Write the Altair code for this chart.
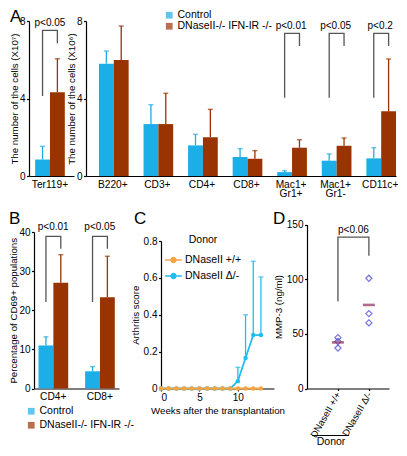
import altair as alt
import pandas as pd

FONT = "Liberation Sans"
CTRL = "#1caee6"
KO = "#993300"
BRK = "#555555"
ORANGE = "#f5a443"
BLUE = "#22bdef"
groups = ["Control", "DNaseII-/- IFN-IR -/-"]

# ---------------- Panel A (left) ----------------
a1_cats = ["Ter119+"]
a1_ctrl = [0.85]
a1_ctrl_top = [1.53]
a1_ko = [4.32]
a1_ko_top = [6.05]
a1_brk_cats = ["Ter119+"]
a1_brk_low = [4.13]
a1_brk_top = [7.52]
a1_brk_high = [6.85]
a1_brk_text = ["p<0.05"]
a1_text_y = [7.9]

# ---------------- Panel A (right) ----------------
a2_cats = ["B220+", "CD3+", "CD4+", "CD8+", "Mac1+ Gr1+", "Mac1+ Gr1-", "CD11c+"]
a2_ctrl = [5.80, 2.68, 1.58, 0.98, 0.20, 0.79, 0.91]
a2_ctrl_top = [6.45, 3.68, 2.15, 1.41, 0.27, 1.14, 1.46]
a2_ko = [5.99, 2.68, 2.00, 0.89, 1.46, 1.56, 3.34]
a2_ko_top = [7.74, 4.27, 3.44, 1.31, 1.87, 1.96, 6.04]
a2_brk_cats = ["Mac1+ Gr1+", "Mac1+ Gr1-", "CD11c+"]
a2_brk_low = [4.04, 4.04, 4.04]
a2_brk_top = [7.36, 7.36, 7.36]
a2_brk_high = [6.71, 6.71, 6.71]
a2_brk_text = ["p<0.01", "p<0.05", "p<0.2"]
a2_text_y = [7.75, 7.75, 7.75]

# ---------------- Panel B ----------------
b_cats = ["CD4+", "CD8+"]
b_ctrl = [11.0, 4.4]
b_ctrl_top = [13.2, 5.6]
b_ko = [27.0, 23.3]
b_ko_top = [34.2, 33.8]
b_brk_cats = ["CD4+", "CD8+"]
b_brk_low = [22.1, 22.1]
b_brk_top = [38.9, 38.9]
b_brk_high = [35.7, 35.7]
b_brk_text = ["p<0.01", "p<0.05"]
b_text_y = [41.3, 41.3]

# ---------------- Panel C ----------------
c_donors = ["DNaseII +/+", "DNaseII \u0394/-"]
c_weeks = [0, 1, 2, 3, 4, 5, 6, 7, 8, 9, 10, 11, 12, 13]
c_wt = [0, 0, 0, 0, 0, 0, 0, 0, 0, 0, 0, 0, 0, 0]
c_ko = [0, 0, 0, 0, 0, 0, 0, 0, 0, 0, 0.04, 0.165, 0.29, 0.29]
c_err_weeks = [10, 11, 12, 13]
c_err_val = [0.04, 0.165, 0.29, 0.29]
c_err_top = [0.115, 0.40, 0.69, 0.605]

# ---------------- Panel D ----------------
d_pos = [1, 1, 1, 2, 2, 2]
d_vals = [46.5, 43.0, 37.0, 100.8, 68.5, 60.0]
d_labels = ["DNaseII +/+", "DNaseII \u0394/-"]
d_brk_x = [1, 1, 2, 2]
d_brk_y = [79.5, 138.5, 138.5, 121.4]
d_text = ["p<0.06"]
d_text_x = [1.5]
d_text_y = [145.0]

# Every panel shares the row origin (top of panel A's plot area).
ROW_H = 367.5
TITLE_FS = 9.7


def long_df(cats, ctrl, ctrl_top, ko, ko_top):
    return pd.DataFrame({
        "cat": cats + cats,
        "group": [groups[0]] * len(cats) + [groups[1]] * len(cats),
        "value": ctrl + ko,
        "top": ctrl_top + ko_top,
    })


def bracket_df(cats, low, top, high):
    rows = []
    for c, l, t, h in zip(cats, low, top, high):
        rows += [dict(cat=c, group=groups[0], y=l, o=0),
                 dict(cat=c, group=groups[0], y=t, o=1),
                 dict(cat=c, group=groups[1], y=t, o=2),
                 dict(cat=c, group=groups[1], y=h, o=3)]
    return pd.DataFrame(rows)


def letter(txt, dx, dy):
    return alt.Chart(pd.DataFrame({"t": [txt]})).mark_text(
        fontSize=17, align="left", baseline="alphabetic"
    ).encode(x=alt.value(dx), y=alt.value(dy), text="t:N")


def bar_panel(cats, ctrl, ctrl_top, ko, ko_top, bcats, blow, btop, bhigh, btext, bty,
              ymax, yvals, ytitle, plot_w, y_top, y_bot, pin, pout, align, legend,
              gw, extra=None):
    df = long_df(cats, ctrl, ctrl_top, ko, ko_top)
    xs = alt.Scale(paddingInner=pin, paddingOuter=pout, align=align, range=[0, plot_w])
    xax = alt.Axis(title=None, ticks=False, labelAngle=0, labelPadding=3,
                   labelExpr="split(datum.label, ' ')", labelLineHeight=9.5,
                   labelFontSize=10.2)
    x = alt.X("cat:N", sort=cats, scale=xs, axis=xax)
    xo = alt.XOffset("group:N", sort=groups,
                     scale=alt.Scale(paddingInner=0, paddingOuter=0))
    y = alt.Y("value:Q", scale=alt.Scale(domain=[0, ymax], nice=False, range=[y_bot, y_top]),
              axis=alt.Axis(values=yvals, title=ytitle, titlePadding=0))
    color = alt.Color("group:N", sort=groups,
                      scale=alt.Scale(domain=groups, range=[CTRL, KO]), legend=legend)
    base = alt.Chart(df)
    bars = base.mark_bar().encode(x=x, xOffset=xo, y=y, color=color)
    err = base.mark_rule(strokeWidth=1.3).encode(
        x=x, xOffset=xo, y=alt.Y("value:Q", title=ytitle), y2="top:Q", color=color)
    caps = base.mark_tick(size=5, thickness=1.4).encode(
        x=x, xOffset=xo, y=alt.Y("top:Q", title=ytitle), color=color)
    brk = alt.Chart(bracket_df(bcats, blow, btop, bhigh)).mark_line(
        color=BRK, strokeWidth=1.3).encode(
        x=x, xOffset=xo, y=alt.Y("y:Q", title=ytitle), detail="cat:N", order="o:Q")
    txt = alt.Chart(pd.DataFrame({"cat": bcats, "y": bty, "p": btext})).mark_text(
        fontSize=10).encode(x=x, y=alt.Y("y:Q", title=ytitle), text="p:N")
    layers = [bars, err, caps, brk, txt]
    if extra is not None:
        layers.append(extra)
    return alt.layer(*layers).properties(width=gw, height=y_bot)


A1 = bar_panel(a1_cats, a1_ctrl, a1_ctrl_top, a1_ko, a1_ko_top,
               a1_brk_cats, a1_brk_low, a1_brk_top, a1_brk_high, a1_brk_text, a1_text_y,
               8, [0, 2, 4, 6, 8], "The number of the cells (X10\u2077)",
               45, 0, 155, 0, 0.258, 0.4, None, gw=5,
               extra=letter("A", -19, 1))

legA = alt.Legend(orient="none", legendX=78, legendY=-11, title=None,
                  symbolType="square", symbolSize=45, labelFontSize=10.5,
                  rowPadding=0, padding=0, symbolStrokeWidth=0, labelOffset=3)
A2 = bar_panel(a2_cats, a2_ctrl, a2_ctrl_top, a2_ko, a2_ko_top,
               a2_brk_cats, a2_brk_low, a2_brk_top, a2_brk_high, a2_brk_text, a2_text_y,
               8, [0, 2, 4, 6, 8], "The number of the cells (X10\u2076)",
               310, 0, 155, 0.378, 0.167, 0.87, legA, gw=75)

legB = alt.Legend(orient="none", legendX=-8, legendY=385, title=None,
                  symbolType="square", symbolSize=45, labelFontSize=10.5,
                  rowPadding=3, padding=0, symbolStrokeWidth=0, labelOffset=3)
B = bar_panel(b_cats, b_ctrl, b_ctrl_top, b_ko, b_ko_top,
              b_brk_cats, b_brk_low, b_brk_top, b_brk_high, b_brk_text, b_text_y,
              40, [0, 10, 20, 30, 40], "Percentage of CD69+ populations",
              85, 211, ROW_H, 0.37, 0.097, 0.5, legB, gw=52,
              extra=letter("B", -25, 203))

# ---------------- Panel C chart ----------------
cdf = pd.DataFrame({
    "week": c_weeks + c_weeks,
    "score": c_wt + c_ko,
    "donor": [c_donors[0]] * len(c_weeks) + [c_donors[1]] * len(c_weeks),
})
cerr = pd.DataFrame({"week": c_err_weeks, "score": c_err_val, "top": c_err_top})
cx = alt.X("week:Q", scale=alt.Scale(domain=[0, 14.7], nice=False, range=[0, 113]),
           axis=alt.Axis(values=[0, 5, 10], title="Weeks after the transplantation",
                         titlePadding=3))
cy = alt.Y("score:Q", scale=alt.Scale(domain=[0, 0.8], nice=False, range=[ROW_H, 220]),
           axis=alt.Axis(values=[0, 0.2, 0.4, 0.6, 0.8], format=".1~f",
                         title="Arthritis score", titlePadding=3))
legC = alt.Legend(orient="none", legendX=3, legendY=214, title="Donor",
                  titleAnchor="middle", titleFontWeight="normal", titleFontSize=10.5,
                  labelFontSize=10.5, rowPadding=0, padding=0,
                  symbolType="M-1,0L1,0M0.28,0A0.28,0.28,0,1,1,-0.28,0A0.28,0.28,0,1,1,0.28,0Z",
                  symbolSize=280, symbolStrokeWidth=1.6, labelOffset=2)
ccolor = alt.Color("donor:N", sort=c_donors,
                   scale=alt.Scale(domain=c_donors, range=[ORANGE, BLUE]), legend=legC)
cbase = alt.Chart(cdf)
c_err_rule = alt.Chart(cerr).mark_rule(color=BLUE, strokeWidth=1.3).encode(
    x=cx, y=alt.Y("score:Q", title="Arthritis score"), y2="top:Q")
c_err_cap = alt.Chart(cerr).mark_tick(color=BLUE, size=5, thickness=1.4,
                                      orient="horizontal").encode(
    x=cx, y=alt.Y("top:Q", title="Arthritis score"))
c_ko_line = cbase.transform_filter(alt.datum.donor == c_donors[1]).mark_line(
    strokeWidth=1.8).encode(x=cx, y=cy, color=ccolor)
c_ko_pts = cbase.transform_filter(alt.datum.donor == c_donors[1]).mark_circle(
    size=20, opacity=1).encode(x=cx, y=cy, color=ccolor)
c_wt_line = cbase.transform_filter(alt.datum.donor == c_donors[0]).mark_line(
    strokeWidth=1.8).encode(x=cx, y=cy, color=ccolor)
c_wt_pts = cbase.transform_filter(alt.datum.donor == c_donors[0]).mark_circle(
    size=20, opacity=1).encode(x=cx, y=cy, color=ccolor)
C = alt.layer(c_err_rule, c_err_cap, c_ko_line, c_ko_pts, c_wt_line, c_wt_pts,
              letter("C", -27, 203)).properties(width=146, height=ROW_H)

# ---------------- Panel D chart ----------------
ddf = pd.DataFrame({"pos": d_pos, "mmp": d_vals})
dx = alt.X("pos:Q", scale=alt.Scale(domain=[0, 2.65], nice=False, range=[0, 82]),
           axis=alt.Axis(values=[1, 2], title=None, tickSize=2, labelPadding=2,
                         labelAngle=300, labelAlign="right", labelBaseline="middle",
                         labelFontSize=9.5,
                         labelExpr="datum.value == 1 ? '%s' : '%s'" % (d_labels[0], d_labels[1])))
dy = alt.Y("mmp:Q", scale=alt.Scale(domain=[0, 150], nice=False, range=[ROW_H, 203.5]),
           axis=alt.Axis(values=[0, 50, 100, 150], title="MMP-3 (ng/ml)", titlePadding=3))
dbase = alt.Chart(ddf)
d_pts = dbase.mark_point(shape="diamond", filled=False, color="#3b3bcf",
                         size=38, strokeWidth=1.2).encode(x=dx, y=dy)
d_mean = dbase.transform_aggregate(m="mean(mmp)", groupby=["pos"]).mark_tick(
    orient="horizontal", color="#8e2c5c", thickness=2.6, size=12).encode(
    x=alt.X("pos:Q"), y=alt.Y("m:Q", title="MMP-3 (ng/ml)"))
d_brk = alt.Chart(pd.DataFrame({"pos": d_brk_x, "y": d_brk_y, "o": [0, 1, 2, 3]})).mark_line(
    color=BRK, strokeWidth=1.3).encode(x="pos:Q", y=alt.Y("y:Q", title="MMP-3 (ng/ml)"),
                                       order="o:Q")
d_txt = alt.Chart(pd.DataFrame({"pos": d_text_x, "y": d_text_y, "p": d_text})).mark_text(
    fontSize=10).encode(x="pos:Q", y=alt.Y("y:Q", title="MMP-3 (ng/ml)"), text="p:N")
d_under = alt.Chart(pd.DataFrame({"t": ["Donor"]})).mark_rule(
    color="black", strokeWidth=1.2).encode(
    x=alt.value(5), x2=alt.value(42), y=alt.value(ROW_H + 47))
d_donor = alt.Chart(pd.DataFrame({"t": ["Donor"]})).mark_text(
    fontSize=10.5, baseline="top").encode(x=alt.value(24), y=alt.value(ROW_H + 48.5), text="t:N")
D = alt.layer(d_pts, d_mean, d_brk, d_txt, d_under, d_donor,
              letter("D", -34, 203)).properties(width=82, height=ROW_H)

# ---------------- flat layout: panels ordered by left edge ----------------
chart = alt.hconcat(A1, B, A2, C, D, spacing=0, bounds="flush").resolve_scale(
    color="independent", x="independent", y="independent"
).resolve_legend(color="independent").properties(
    padding=0, background="white"
).configure(font=FONT).configure_view(stroke=None).configure_axis(
    domainColor="black", tickColor="black", labelColor="black", titleColor="black",
    labelFontSize=10, titleFontSize=TITLE_FS, titleFontWeight="normal", tickSize=2.5,
    domainWidth=1.2, tickWidth=1.2, grid=False, labelPadding=1.5,
    labelFont=FONT, titleFont=FONT
).configure_legend(labelFont=FONT, titleFont=FONT, labelColor="black", titleColor="black"
).configure_text(font=FONT)

chart.save("out.html", embed_options={"renderer": "svg", "actions": False})
